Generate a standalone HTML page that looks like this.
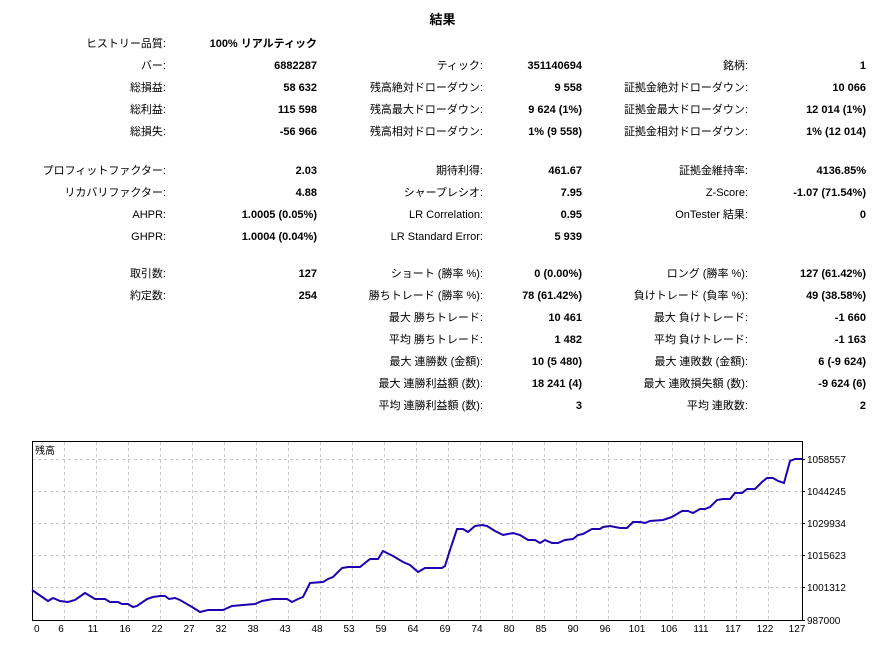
<!DOCTYPE html>
<html><head><meta charset="utf-8">
<style>
body{margin:0;width:895px;height:645px;background:#fff;position:relative;overflow:hidden;font-family:"Liberation Sans","Noto Sans CJK JP",sans-serif;font-size:11px;color:#000}
.t{position:absolute;white-space:nowrap;line-height:14px;text-align:right}
.b{font-weight:bold}
</style></head><body>
<div class="t b" style="left:400px;width:85px;text-align:center;top:12px;font-size:13px;line-height:16px">結果</div>
<div id="tbl"></div>
<svg width="895" height="645" style="position:absolute;left:0;top:0" font-family="Liberation Sans, Noto Sans CJK JP, sans-serif" font-size="10">
<g stroke="#c8c8c8" stroke-dasharray="3,3" stroke-width="1">
<line x1="32" x2="802" y1="459.5" y2="459.5"/><line x1="32" x2="802" y1="491.5" y2="491.5"/><line x1="32" x2="802" y1="523.5" y2="523.5"/><line x1="32" x2="802" y1="555.5" y2="555.5"/><line x1="32" x2="802" y1="587.5" y2="587.5"/>
<g id="vg"></g>
</g>
<rect x="32.5" y="441.5" width="770" height="179" fill="none" stroke="#000"/>
<text x="35" y="454" font-size="10">残高</text>
<polyline fill="none" stroke="#2000b0" stroke-width="2" points="32,590 48,601 53,598 60,601 68,602 75,600 85,593 95,599 105,599 110,602 118,602 122,604 128,604 133,607 137,606 147,599 153,597 160,596 165,596 169,599 175,598 180,600 192,607 200,612 208,610 223,610 232,606 243,605 255,604 262,601 273,599 287,599 292,602 298,599 303,597 310,583 323,582 328,579 333,577 342,568 348,567 360,567 370,559 378,559 383,551 393,556 403,562 410,565 418,572 425,568 432,568 442,568 445,566 450,550 457,529 463,529 468,532 475,526 482,525 487,526 495,531 503,535 513,533 520,535 528,540 535,540 540,543 545,540 552,543 558,543 565,540 573,539 578,535 583,534 592,529 600,529 603,527 610,526 620,528 627,528 633,522 640,522 645,523 650,521 663,520 672,517 682,511 688,511 693,513 700,509 705,509 710,507 717,500 723,499 730,499 735,493 742,493 747,489 755,489 762,482 767,478 773,478 778,481 784,483 790,461 795,459 802,459"/>
<g id="yl" font-size="10"></g>
<g id="xl" font-size="10"></g>
</svg>
<script>
var rows=[
[44,"ヒストリー品質:","100% リアルティック"],
[66,"バー:","6882287","ティック:","351140694","銘柄:","1"],
[88,"総損益:","58 632","残高絶対ドローダウン:","9 558","証拠金絶対ドローダウン:","10 066"],
[110,"総利益:","115 598","残高最大ドローダウン:","9 624 (1%)","証拠金最大ドローダウン:","12 014 (1%)"],
[132,"総損失:","-56 966","残高相対ドローダウン:","1% (9 558)","証拠金相対ドローダウン:","1% (12 014)"],
[171,"プロフィットファクター:","2.03","期待利得:","461.67","証拠金維持率:","4136.85%"],
[193,"リカバリファクター:","4.88","シャープレシオ:","7.95","Z-Score:","-1.07 (71.54%)"],
[215,"AHPR:","1.0005 (0.05%)","LR Correlation:","0.95","OnTester 結果:","0"],
[237,"GHPR:","1.0004 (0.04%)","LR Standard Error:","5 939"],
[274,"取引数:","127","ショート (勝率 %):","0 (0.00%)","ロング (勝率 %):","127 (61.42%)"],
[296,"約定数:","254","勝ちトレード (勝率 %):","78 (61.42%)","負けトレード (負率 %):","49 (38.58%)"],
[318,"","","最大 勝ちトレード:","10 461","最大 負けトレード:","-1 660"],
[340,"","","平均 勝ちトレード:","1 482","平均 負けトレード:","-1 163"],
[362,"","","最大 連勝数 (金額):","10 (5 480)","最大 連敗数 (金額):","6 (-9 624)"],
[384,"","","最大 連勝利益額 (数):","18 241 (4)","最大 連敗損失額 (数):","-9 624 (6)"],
[406,"","","平均 連勝利益額 (数):","3","平均 連敗数:","2"]];
var xs=[166,317,483,582,748,866],h="";
rows.forEach(function(r){for(var i=1;i<r.length;i++){if(!r[i])continue;h+='<div class="t'+(i%2==0?' b':'')+'" style="right:'+(895-xs[i-1])+'px;top:'+(r[0]-7)+'px">'+r[i]+'</div>';}});
document.getElementById('tbl').innerHTML=h;
var ns="http://www.w3.org/2000/svg",vg=document.getElementById('vg'),xl=document.getElementById('xl'),yl=document.getElementById('yl');
var lab=[0,6,11,16,22,27,32,38,43,48,53,59,64,69,74,80,85,90,96,101,106,111,117,122,127];
lab.forEach(function(v,i){var x=32+i*32;if(i>0&&i<24){var l=document.createElementNS(ns,'line');l.setAttribute('x1',x+.5);l.setAttribute('x2',x+.5);l.setAttribute('y1',442);l.setAttribute('y2',620);vg.appendChild(l);}
var t=document.createElementNS(ns,'text');t.setAttribute('x',i==0?34:x-3);t.setAttribute('y',632);t.setAttribute('text-anchor',i==0?'start':'middle');t.textContent=v;xl.appendChild(t);});
[["1058557",463],["1044245",495],["1029934",527],["1015623",559],["1001312",591],["987000",624]].forEach(function(a){var t=document.createElementNS(ns,'text');t.setAttribute('x',807);t.setAttribute('y',a[1]);t.textContent=a[0];yl.appendChild(t);var l=document.createElementNS(ns,'line');l.setAttribute('x1',802);l.setAttribute('x2',805);l.setAttribute('y1',a[1]-3.5);l.setAttribute('y2',a[1]-3.5);l.setAttribute('stroke','#000');yl.appendChild(l);});
</script>
</body></html>
